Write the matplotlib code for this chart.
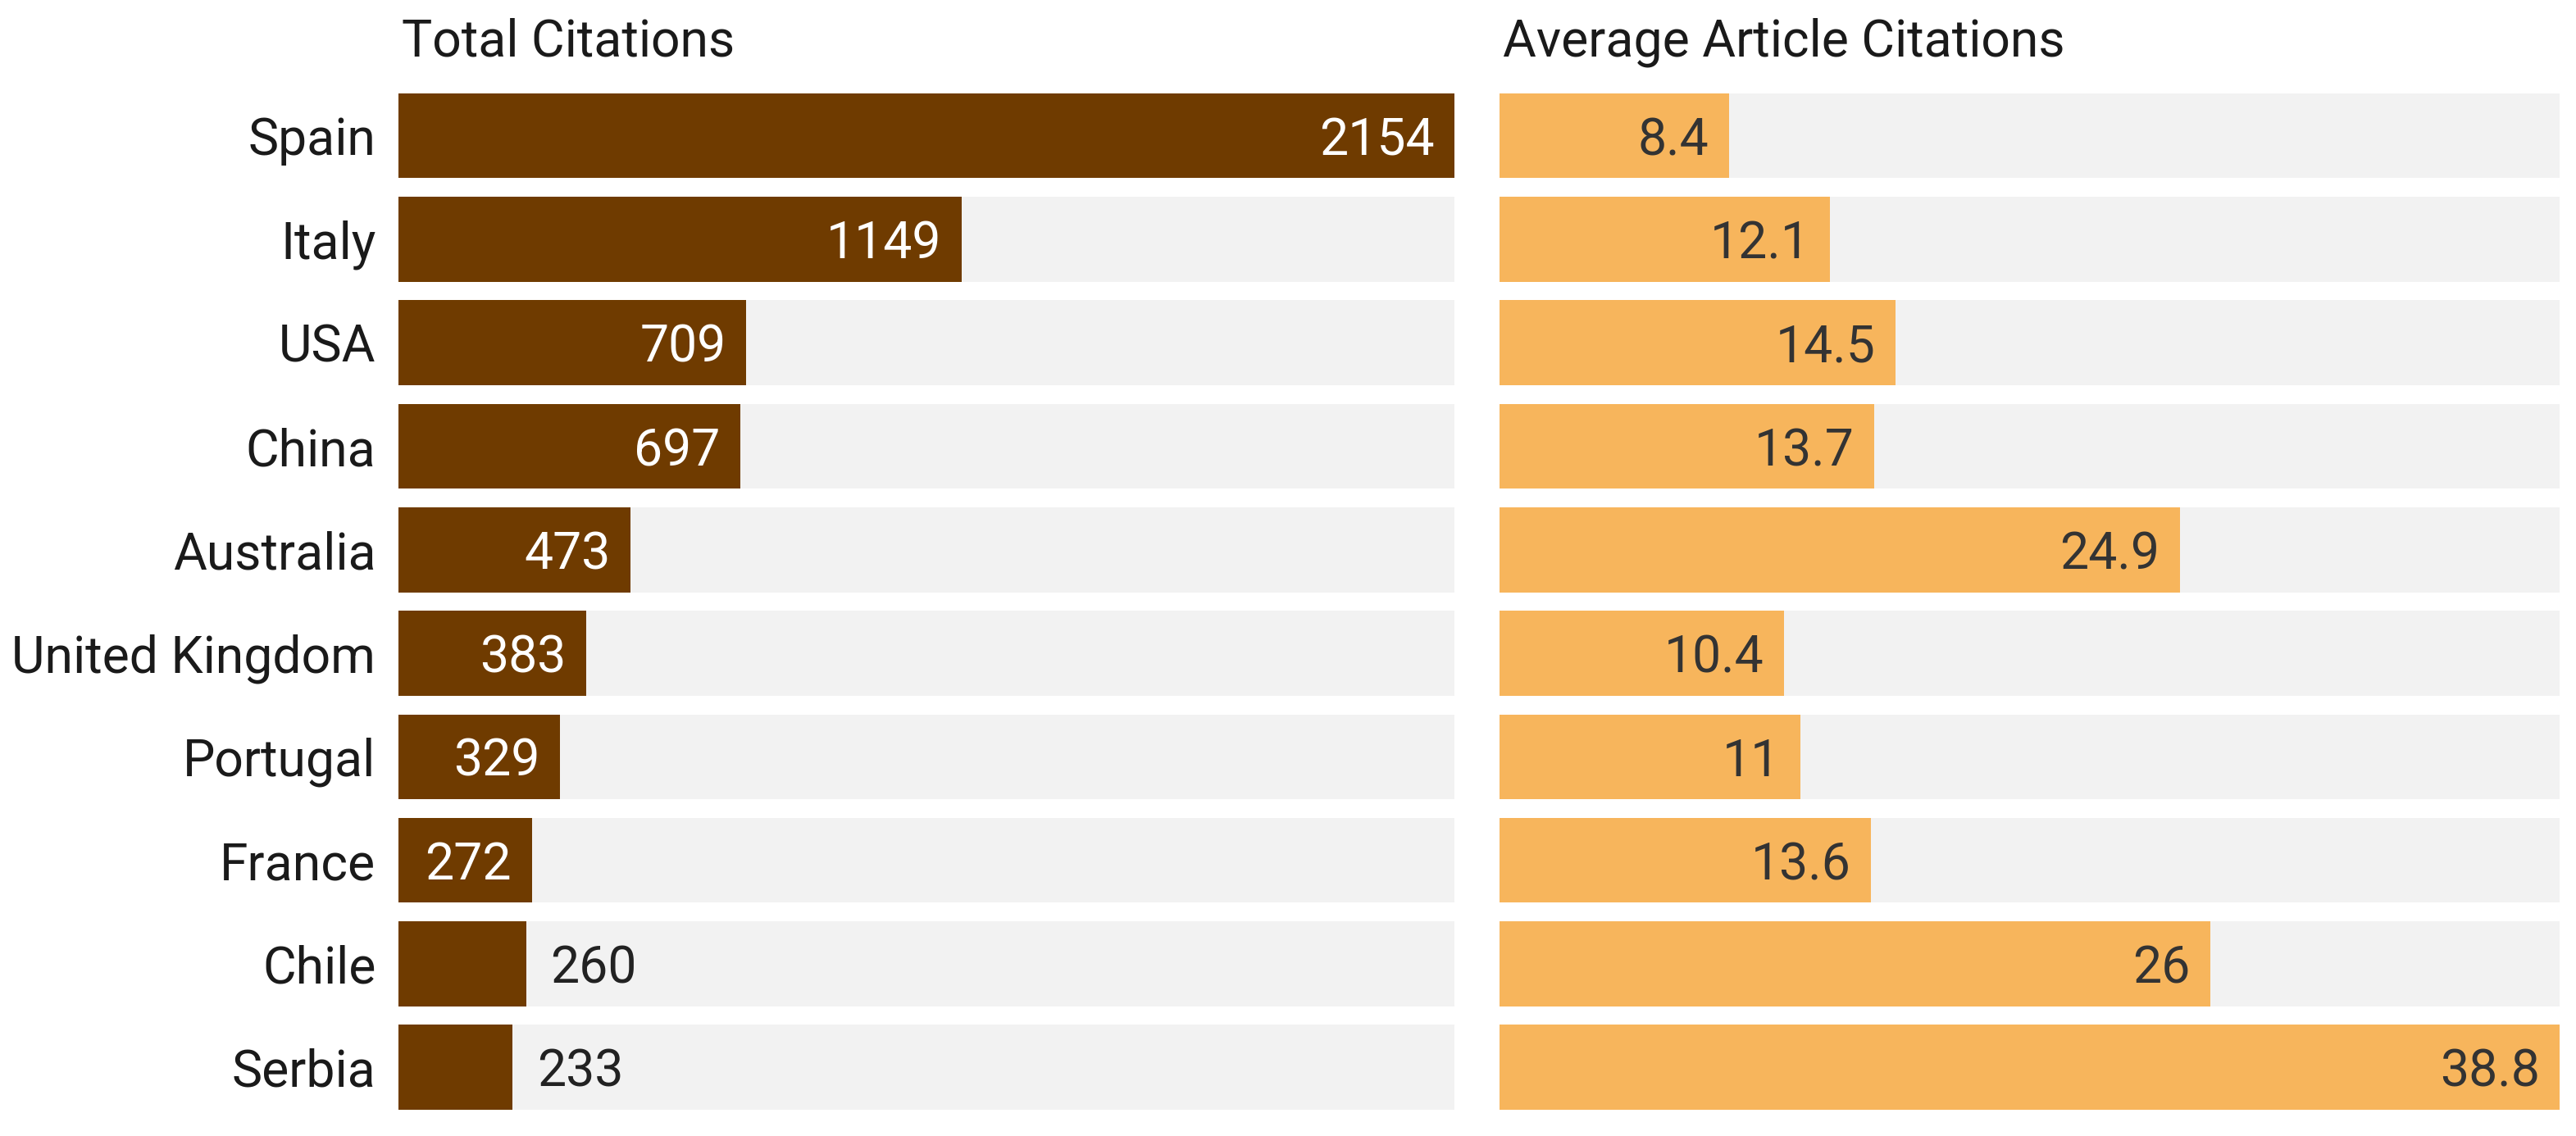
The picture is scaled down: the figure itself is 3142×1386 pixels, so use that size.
import matplotlib
matplotlib.use('Agg')
import matplotlib.pyplot as plt

countries = ['Spain', 'Italy', 'USA', 'China', 'Australia', 'United Kingdom',
             'Portugal', 'France', 'Chile', 'Serbia']
total_citations = [2154, 1149, 709, 697, 473, 383, 329, 272, 260, 233]
avg_citations = [8.4, 12.1, 14.5, 13.7, 24.9, 10.4, 11, 13.6, 26, 38.8]
avg_labels = ['8.4', '12.1', '14.5', '13.7', '24.9', '10.4', '11', '13.6', '26', '38.8']

plt.rcParams['font.family'] = ['Roboto', 'DejaVu Sans']

BROWN = '#6f3b00'
ORANGE = '#f7b55c'
GREY = '#f2f2f2'
FS = 45
H = 0.82

fig = plt.figure(figsize=(31.42, 13.86), dpi=100)
ax1 = fig.add_axes([0.1547, 0.0231, 0.4099, 0.8947])
ax2 = fig.add_axes([0.5822, 0.0231, 0.4115, 0.8947])

y = list(range(len(countries)))


def panel(ax, vals, labels, color, txt_color, inside_min):
    vmax = max(vals)
    ax.barh(y, [vmax] * len(vals), height=H, color=GREY, linewidth=0)
    ax.barh(y, vals, height=H, color=color, linewidth=0)
    pad = vmax * 0.019
    for yi, v, lab in zip(y, vals, labels):
        if v >= inside_min:
            ax.text(v - pad, yi, lab, ha='right', va='center_baseline',
                    fontsize=FS, color=txt_color)
        else:
            ax.text(v + pad * 1.2, yi, lab, ha='left', va='center_baseline',
                    fontsize=FS, color='#222222')
    ax.set_xlim(0, vmax)
    ax.set_ylim(len(vals) - 1 + H / 2, -H / 2)
    ax.set_xticks([])
    for s in ax.spines.values():
        s.set_visible(False)


panel(ax1, total_citations, [str(v) for v in total_citations], BROWN, 'white', 270)
panel(ax2, avg_citations, avg_labels, ORANGE, '#333333', 0)

ax1.set_yticks(y)
ax1.set_yticklabels(countries, fontsize=FS, color='#1a1a1a')
ax1.tick_params(axis='y', length=0, pad=20)
ax2.set_yticks([])

fig.text(0.1559, 0.963, 'Total Citations', fontsize=FS, color='#1a1a1a',
         ha='left', va='center')
fig.text(0.5835, 0.963, 'Average Article Citations', fontsize=FS, color='#1a1a1a',
         ha='left', va='center')

fig.savefig('out.png', dpi=100, facecolor='white')
